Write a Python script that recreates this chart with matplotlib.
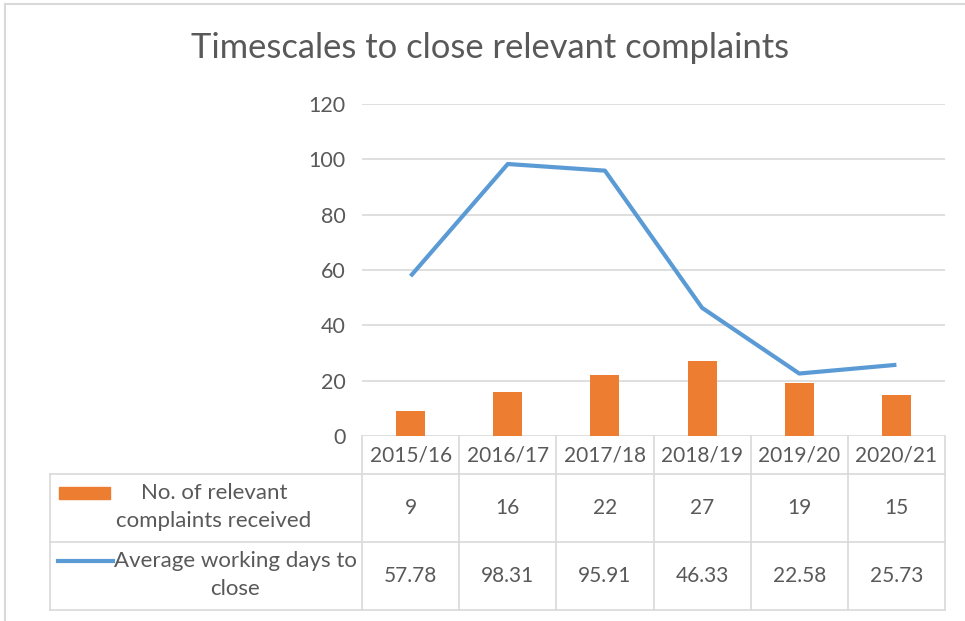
import matplotlib.pyplot as plt
from matplotlib.lines import Line2D
from matplotlib.patches import Rectangle

# Données
annees = ['2015/16', '2016/17', '2017/18', '2018/19', '2019/20', '2020/21']
plaintes = [9, 16, 22, 27, 19, 15]
jours = [57.78, 98.31, 95.91, 46.33, 22.58, 25.73]
etiquettes_jours = ['57.78', '98.31', '95.91', '46.33', '22.58', '25.73']
graduations = [0, 20, 40, 60, 80, 100, 120]

titre = 'Timescales to close relevant complaints'
nom_plaintes = 'No. of relevant\ncomplaints received'
nom_jours = 'Average working days to\nclose'

orange = '#ED7D31'
bleu = '#5B9BD5'
gris_texte = '#595959'
gris_ligne = '#D9D9D9'

plt.rcParams['font.family'] = ['Lato', 'DejaVu Sans']

W, H = 965, 621
fig = plt.figure(figsize=(W / 100, H / 100), dpi=100)

# conversion pixels -> coordonnees figure
def fx(px):
    return px / W

def fy(py):
    return 1 - py / H

x0, x1 = 362, 945
y_top, y_zero = 104, 436
ax = fig.add_axes([fx(x0), fy(y_zero), fx(x1) - fx(x0), fy(y_top) - fy(y_zero)])

n = len(annees)
pos = list(range(n))
ax.bar(pos, plaintes, width=0.3, color=orange, zorder=2)
ax.plot(pos, jours, color=bleu, linewidth=3.0, zorder=3, solid_capstyle='butt')

ax.set_xlim(-0.5, n - 0.5)
ax.set_ylim(0, 120)
ax.set_yticks(graduations)
ax.set_yticklabels([str(g) for g in graduations])
ax.tick_params(axis='y', length=0, pad=12, labelsize=15.5, labelcolor=gris_texte)
ax.set_xticks([])
for s in ax.spines.values():
    s.set_visible(False)
ax.grid(axis='y', color=gris_ligne, linewidth=1.2, zorder=0)
ax.set_axisbelow(True)

# Titre
fig.text(fx(490), fy(48), titre, ha='center', va='center', fontsize=24.8, color=gris_texte)

# Tableau de donnees
y_entete, y_r1, y_r2, y_bas = 436, 474, 542, 610
x_gauche = 50
larg = (x1 - x0) / n

def ligne(xa, ya, xb, yb):
    fig.add_artist(Line2D([fx(xa), fx(xb)], [fy(ya), fy(yb)], color=gris_ligne, linewidth=1.2))

for y in (y_r1, y_r2, y_bas):
    ligne(x_gauche, y, x1, y)
ligne(x_gauche, y_r1, x_gauche, y_bas)
for k in range(n + 1):
    ligne(x0 + k * larg, y_entete, x0 + k * larg, y_bas)

for k in range(n):
    xc = x0 + (k + 0.5) * larg
    fig.text(fx(xc), fy(455), annees[k], ha='center', va='center', fontsize=15, color=gris_texte)
    fig.text(fx(xc), fy(508), str(plaintes[k]), ha='center', va='center', fontsize=15, color=gris_texte)
    fig.text(fx(xc), fy(576), etiquettes_jours[k], ha='center', va='center', fontsize=15, color=gris_texte)

# Legendes des lignes
fig.add_artist(Rectangle((fx(59), fy(499)), fx(110) - fx(59), fy(487) - fy(499), color=orange))
fig.text(fx(214), fy(507), nom_plaintes, ha='center', va='center', fontsize=16,
         color=gris_texte, linespacing=1.5)
fig.add_artist(Line2D([fx(58), fx(113)], [fy(561), fy(561)], color=bleu, linewidth=3.0))
fig.text(fx(235), fy(575), nom_jours, ha='center', va='center', fontsize=16,
         color=gris_texte, linespacing=1.5)

# Cadre du graphique
fig.add_artist(Line2D([fx(5), 1], [fy(4), fy(4)], color=gris_ligne, linewidth=1.5))
fig.add_artist(Line2D([fx(5), fx(5)], [fy(4), 0], color=gris_ligne, linewidth=1.5))

plt.savefig('out.png', dpi=100)
